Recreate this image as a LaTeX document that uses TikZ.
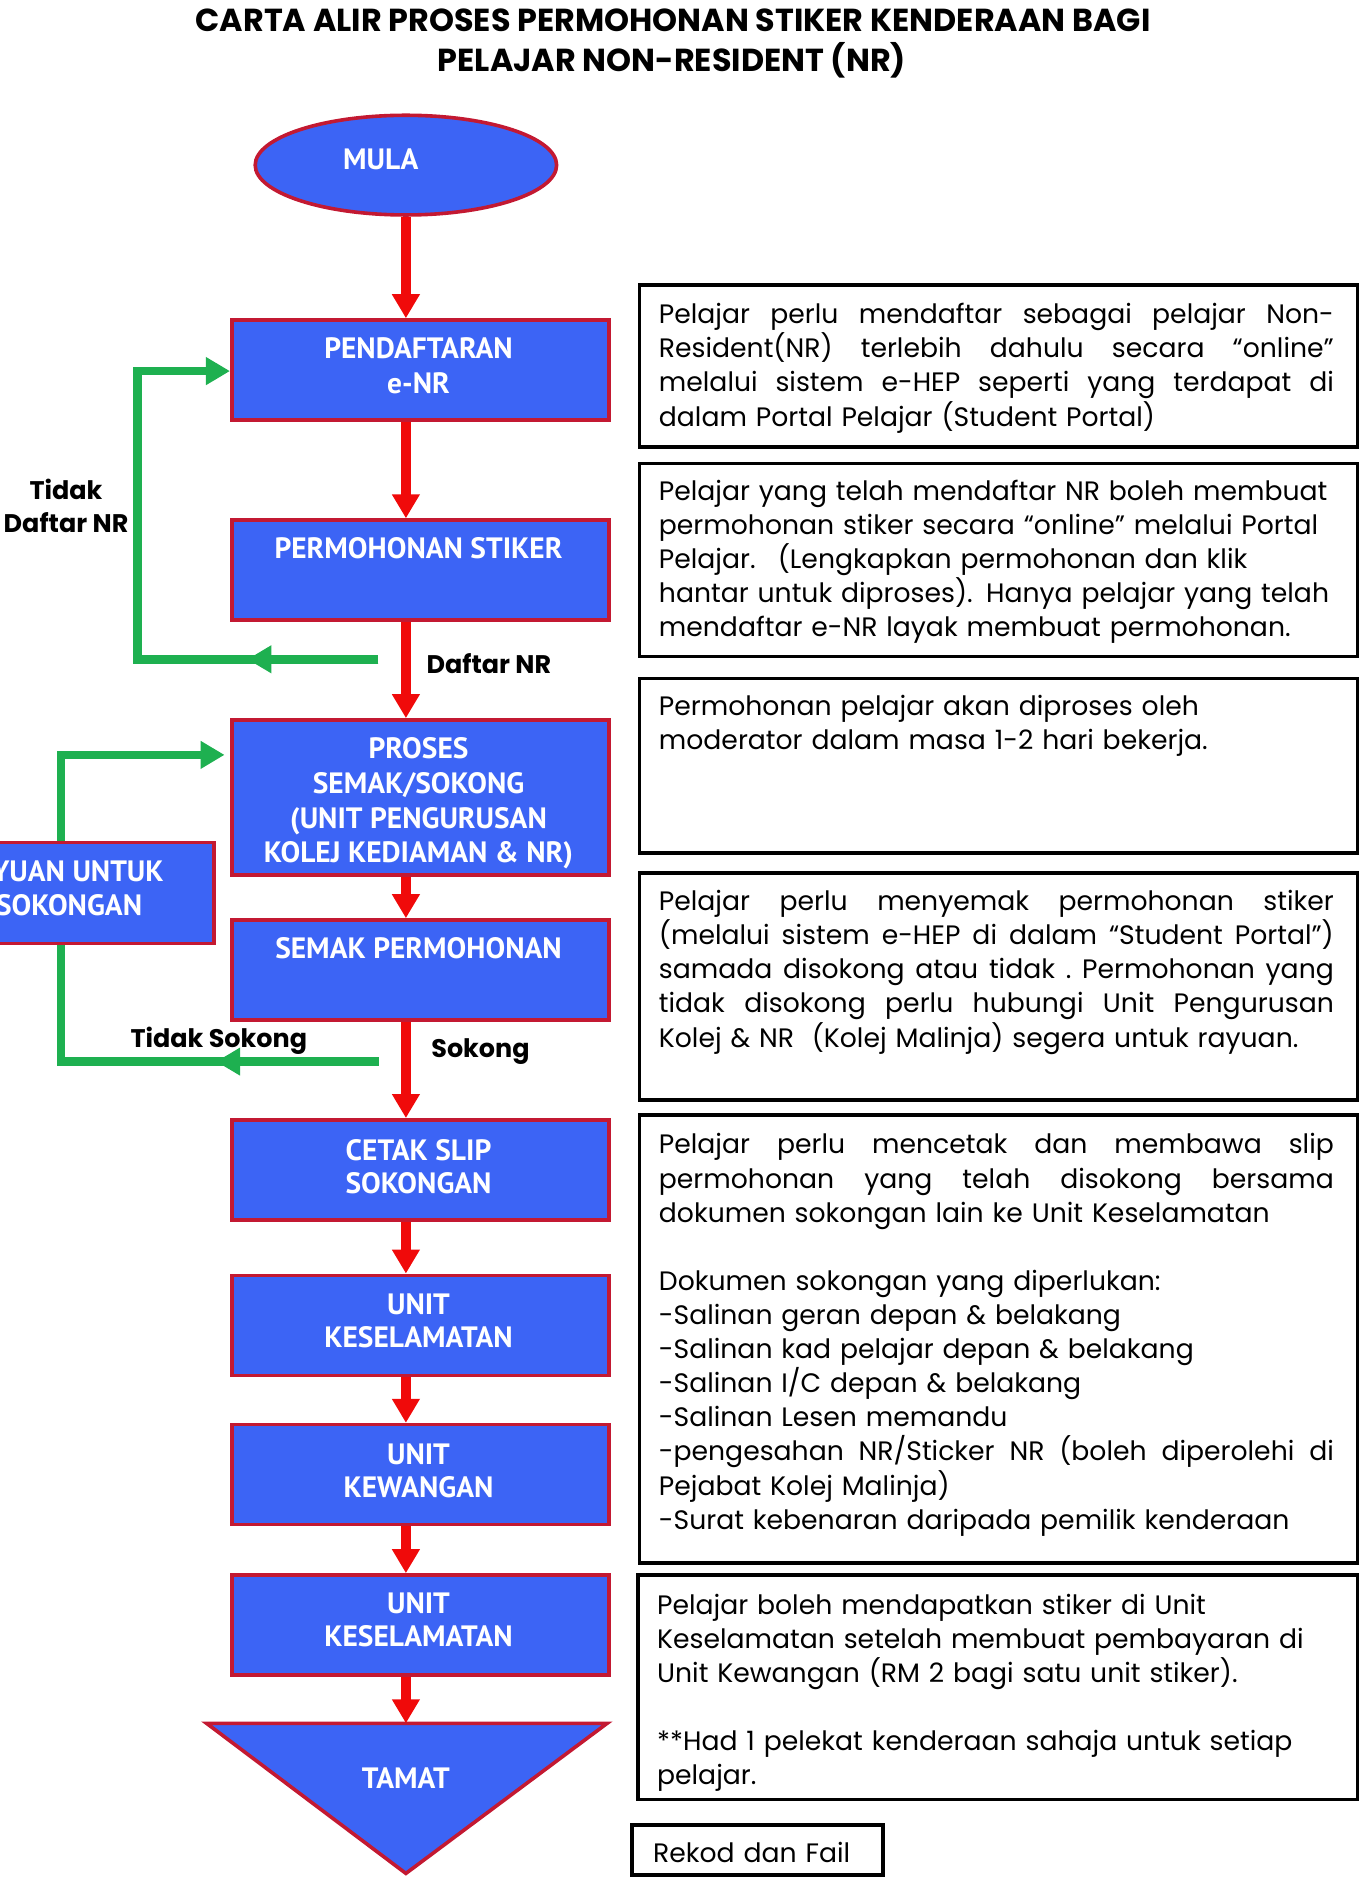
\documentclass[tikz,border=0pt]{standalone}
\usepackage{fontspec}
\setmainfont{Poppins}
\newfontfamily\ptsans{PT Sans}
\usetikzlibrary{shapes.geometric,arrows.meta}
\definecolor{boxblue}{RGB}{60,100,245}
\definecolor{boxred}{RGB}{195,25,50}
\definecolor{arrred}{RGB}{240,10,10}
\definecolor{arrgreen}{RGB}{30,176,80}
\newcommand\jl[1]{\leavevmode\hbox to 562pt{\spaceskip=0.25em plus 1fil\xspaceskip=0.25em plus 1fil\relax #1}}
\tikzset{
  flowbox/.style={rectangle, draw=boxred, line width=3pt, fill=boxblue, inner sep=0pt, anchor=north west, minimum width=314pt, minimum height=83.3pt},
  descbox/.style={rectangle, draw=black, line width=3pt, inner sep=0pt, anchor=north west, minimum width=598pt},
  lbl/.style={anchor=base, inner sep=0pt, text=white, font={\ptsans\bfseries\fontsize{24.5}{28}\selectfont}},
  titletext/.style={anchor=base, inner sep=0pt, font={\bfseries\fontsize{26.5}{30}\selectfont}},
  desctext/.style={anchor=base west, inner sep=0pt, text width=562pt, align=left, font={\fontsize{22.2}{28.4}\selectfont}},
  edgelbl/.style={anchor=base, inner sep=0pt, font={\bfseries\fontsize{21.2}{28}\selectfont}},
  redarr/.style={draw=arrred, line width=8pt, -{Triangle[width=22pt,length=20pt]}},
  greenln/.style={draw=arrgreen, line width=7pt},
  greentip/.style={-{Triangle[width=22pt,length=20pt]}}
}
\begin{document}
\begin{tikzpicture}[x=1pt,y=-1pt]
\useasboundingbox (0,0) rectangle (1134,1568);
\clip (0,0) rectangle (1134,1568);
\fill[white] (0,0) rectangle (1134,1568);

% title
\node[titletext] (title1) at (560.5,26.2) {CARTA ALIR PROSES PERMOHONAN STIKER KENDERAAN BAGI};
\node[titletext] (title2) at (559.5,59.8) {PELAJAR NON-RESIDENT (NR)};

% start
\node[ellipse, draw=boxred, line width=3pt, fill=boxblue, minimum width=251pt, minimum height=83pt, inner sep=0pt] (mula) at (338,137.5) {};
\node[lbl] (mulat) at (317,141) {MULA};

% flow boxes
\node[flowbox] (b1) at (191.5,265) {};
\node[flowbox] (b2) at (191.5,431.6) {};
\node[flowbox, minimum height=129pt] (b3) at (191.5,598) {};
\node[flowbox] (b4) at (191.5,764.6) {};
\node[flowbox] (b5) at (191.5,931) {};
\node[flowbox] (b6) at (191.5,1060.5) {};
\node[flowbox] (b7) at (191.5,1184.8) {};
\node[flowbox] (b8) at (191.5,1310) {};

\node[lbl] (b1a) at (348.5,298.5) {PENDAFTARAN};
\node[lbl] (b1b) at (348.5,328) {e-NR};
\node[lbl] (b2a) at (348.5,465) {PERMOHONAN STIKER};
\node[lbl] (b3a) at (348.5,631.5) {PROSES};
\node[lbl] (b3b) at (348.5,660.5) {SEMAK/SOKONG};
\node[lbl] (b3c) at (348.5,689.5) {(UNIT PENGURUSAN};
\node[lbl] (b3d) at (348.5,718.5) {KOLEJ KEDIAMAN \& NR)};
\node[lbl] (b4a) at (348.5,798) {SEMAK PERMOHONAN};
\node[lbl] (b5a) at (348.5,966) {CETAK SLIP};
\node[lbl] (b5b) at (348.5,993.7) {SOKONGAN};
\node[lbl] (b6a) at (348.5,1095) {UNIT};
\node[lbl] (b6b) at (348.5,1122) {KESELAMATAN};
\node[lbl] (b7a) at (348.5,1219.9) {UNIT};
\node[lbl] (b7b) at (348.5,1247) {KEWANGAN};
\node[lbl] (b8a) at (348.5,1343.9) {UNIT};
\node[lbl] (b8b) at (348.5,1371.2) {KESELAMATAN};

% end triangle
\coordinate (ttl) at (172,1435);
\coordinate (ttr) at (505.6,1435);
\coordinate (tta) at (338,1560);
\coordinate (ttop) at (338,1435);
\draw[draw=boxred, line width=3pt, fill=boxblue, line join=miter] (ttl) -- (ttr) -- (tta) -- cycle;
\node[lbl] (tamat) at (338,1489.7) {TAMAT};

% red arrows
\draw[redarr] (mula.south) -- (mula.south |- b1.north);
\draw[redarr] (b1.south -| mula.south) -- (b2.north -| mula.south);
\draw[redarr] (b2.south -| mula.south) -- (b3.north -| mula.south);
\draw[redarr] (b3.south -| mula.south) -- (b4.north -| mula.south);
\draw[redarr] (b4.south -| mula.south) -- (b5.north -| mula.south);
\draw[redarr] (b5.south -| mula.south) -- (b6.north -| mula.south);
\draw[redarr] (b6.south -| mula.south) -- (b7.north -| mula.south);
\draw[redarr] (b7.south -| mula.south) -- (b8.north -| mula.south);
\draw[redarr] (b8.south -| mula.south) -- (ttop);

% green loop 1
\coordinate (g1s) at (315,549);
\coordinate (g1a) at (114.5,549);
\coordinate (g1b) at (114.5,309);
\coordinate (g1m) at (206,549);
\draw[greenln, greentip] (g1s) -- (g1a) -- (g1b) -- (g1b -| b1.west);
\draw[greenln, greentip] (g1s) -- (g1m);

% green loop 2
\coordinate (g2s) at (315.5,884);
\coordinate (g2a) at (51,884);
\coordinate (g2b) at (51,628.6);
\coordinate (g2e) at (187,628.6);
\coordinate (g2m) at (180,884);
\draw[greenln, greentip] (g2s) -- (g2a) -- (g2b) -- (g2e);
\draw[greenln, greentip] (g2s) -- (g2m);

% appeal box (partly off the page, as in the original)
\node[flowbox, minimum height=84pt] (rayuan) at (-137.3,700) {};
\node[lbl, anchor=base east] (rayuana) at (136.5,734) {RAYUAN UNTUK};
\node[lbl, anchor=base east] (rayuanb) at (118.5,762) {SOKONGAN};

% branch labels
\node[edgelbl] (ltidak1) at (55,416) {Tidak};
\node[edgelbl] (ltidak2) at (55,443) {Daftar NR};
\node[edgelbl, anchor=base west] (ldaftar) at (355,561) {Daftar NR};
\node[edgelbl, anchor=base west] (ltsokong) at (108.5,872) {Tidak Sokong};
\node[edgelbl, anchor=base west] (lsokong) at (359,881) {Sokong};

% description boxes
\node[descbox, minimum height=134.7pt] (dA) at (531,235.8) {};
\node[desctext] (dAt) at (548.5,269.6) {%
\jl{Pelajar perlu mendaftar sebagai pelajar Non-}\\
\jl{Resident(NR) terlebih dahulu secara “online”}\\
\jl{melalui sistem e-HEP seperti yang terdapat di}\\
dalam Portal Pelajar (Student Portal)};

\node[descbox, minimum height=160.9pt] (dB) at (531,384.4) {};
\node[desctext] (dBt) at (548.5,416.6) {%
Pelajar yang telah mendaftar NR boleh membuat\\
permohonan stiker secara “online” melalui Portal\\
Pelajar.~ (Lengkapkan permohonan dan klik\\
hantar untuk diproses). Hanya pelajar yang telah\\
mendaftar e-NR layak membuat permohonan.};

\node[descbox, minimum height=145.6pt] (dC) at (531,563.4) {};
\node[desctext] (dCt) at (548.5,596) {%
Permohonan pelajar akan diproses oleh\\
moderator dalam masa 1-2 hari bekerja.};

\node[descbox, minimum height=188.6pt] (dD) at (531,725.7) {};
\node[desctext] (dDt) at (548.5,758.3) {%
\jl{Pelajar perlu menyemak permohonan stiker}\\
\jl{(melalui sistem e-HEP di dalam “Student Portal”)}\\
\jl{samada disokong atau tidak . Permohonan yang}\\
\jl{tidak disokong perlu hubungi Unit Pengurusan}\\
Kolej \& NR~ (Kolej Malinja) segera untuk rayuan.};

\node[descbox, minimum height=373.2pt] (dE) at (531,926.8) {};
\node[desctext] (dEt) at (548.5,960.9) {%
\jl{Pelajar perlu mencetak dan membawa slip}\\
\jl{permohonan yang telah disokong bersama}\\
dokumen sokongan lain ke Unit Keselamatan\\
\mbox{}\\
Dokumen sokongan yang diperlukan:\\
-Salinan geran depan \& belakang\\
-Salinan kad pelajar depan \& belakang\\
-Salinan I/C depan \& belakang\\
-Salinan Lesen memandu\\
\jl{-pengesahan NR/Sticker NR (boleh diperolehi di}\\
Pejabat Kolej Malinja)\\
-Surat kebenaran daripada pemilik kenderaan};

\node[descbox, minimum width=599pt, minimum height=187pt] (dF) at (530,1310) {};
\node[desctext] (dFt) at (547,1344) {%
Pelajar boleh mendapatkan stiker di Unit\\
Keselamatan setelah membuat pembayaran di\\
Unit Kewangan (RM 2 bagi satu unit stiker).\\
\mbox{}\\
\mbox{}**Had 1 pelekat kenderaan sahaja untuk setiap\\
pelajar.};

\node[descbox, minimum width=208.6pt, minimum height=41.6pt] (dG) at (525,1518) {};
\node[desctext, text width=180pt] (dGt) at (543.7,1550.6) {Rekod dan Fail};
\end{tikzpicture}
\end{document}
